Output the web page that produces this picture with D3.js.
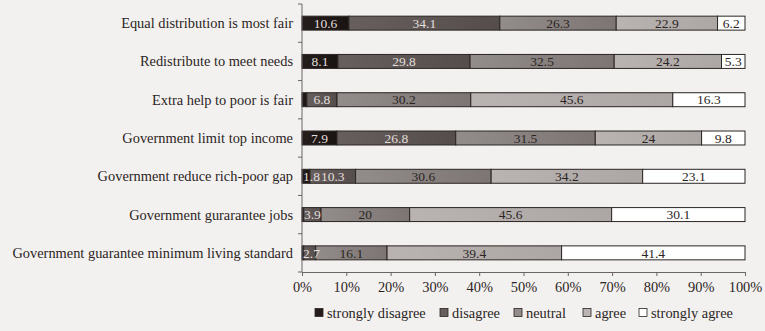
<!DOCTYPE html>
<html>
<head>
<meta charset="utf-8">
<script src="https://cdn.jsdelivr.net/npm/d3@7"></script>
<style>
  body { margin: 0; background: #f3f1f0; }
  svg { display: block; font-family: "Liberation Serif", "DejaVu Serif", serif; }
</style>
</head>
<body>
<div id="chart"></div>
<script>
const categories = [
  "Equal distribution is most fair",
  "Redistribute to meet needs",
  "Extra help to poor is fair",
  "Government limit top income",
  "Government reduce rich-poor gap",
  "Government gurarantee jobs",
  "Government guarantee minimum living standard"
];

const levels = ["strongly disagree", "disagree", "neutral", "agree", "strongly agree"];

const stronglyDisagree = [10.6, 8.1, 1.1, 7.9, 1.8, 0.4, 0.4];
const disagree = [34.1, 29.8, 6.8, 26.8, 10.3, 3.9, 2.7];
const neutral = [26.3, 32.5, 30.2, 31.5, 30.6, 20, 16.1];
const agree = [22.9, 24.2, 45.6, 24, 34.2, 45.6, 39.4];
const stronglyAgree = [6.2, 5.3, 16.3, 9.8, 23.1, 30.1, 41.4];

const xTicks = [0, 0.1, 0.2, 0.3, 0.4, 0.5, 0.6, 0.7, 0.8, 0.9, 1];

const width = 765,
  height = 331;
const margin = { left: 302, right: 20, top: 4, bottom: 59 };

const series = [stronglyDisagree, disagree, neutral, agree, stronglyAgree];
const rows = categories.map((c, i) => {
  const row = { category: c };
  levels.forEach((lv, j) => (row[lv] = series[j][i]));
  return row;
});

const svg = d3
  .select("#chart")
  .append("svg")
  .attr("width", width)
  .attr("height", height);

// slight left-to-right shading on each segment
const fills = {
  "strongly disagree": ["#241d1b", "#1a1412"],
  disagree: ["#675f5d", "#554d4b"],
  neutral: ["#928c8a", "#7c7573"],
  agree: ["#b9b4b2", "#aca6a4"],
  "strongly agree": ["#ffffff", "#ffffff"]
};
const defs = svg.append("defs");
levels.forEach((lv, i) => {
  const g = defs.append("linearGradient").attr("id", "grad" + i);
  g.append("stop").attr("offset", "0%").attr("stop-color", fills[lv][0]);
  g.append("stop").attr("offset", "100%").attr("stop-color", fills[lv][1]);
});

const x = d3
  .scaleLinear()
  .domain([0, 1])
  .range([margin.left, width - margin.right]);

const y = d3
  .scaleBand()
  .domain(categories)
  .range([margin.top, height - margin.bottom])
  .paddingInner(0.635)
  .paddingOuter(0.3175);

const stack = d3.stack().keys(levels).offset(d3.stackOffsetExpand);
const stacked = stack(rows);

const layers = svg
  .selectAll(".layer")
  .data(stacked)
  .enter()
  .append("g")
  .attr("class", "layer")
  .attr("fill", (d, i) => `url(#grad${i})`);

layers
  .selectAll("rect")
  .data((d) => d)
  .enter()
  .append("rect")
  .attr("x", (d) => x(d[0]))
  .attr("y", (d) => y(d.data.category))
  .attr("width", (d) => x(d[1]) - x(d[0]))
  .attr("height", y.bandwidth())
  .attr("stroke", "#2b2523")
  .attr("stroke-width", 1);

// value labels go on top of all segments so narrow ones can spill over
const labels = svg.append("g").attr("class", "labels");
stacked.forEach((layer, i) => {
  labels
    .append("g")
    .selectAll("text")
    .data(layer.filter((d) => d.data[layer.key] >= 1.5))
    .enter()
    .append("text")
    .attr("x", (d) => (x(d[0]) + x(d[1])) / 2)
    .attr("y", (d) => y(d.data.category) + y.bandwidth() / 2)
    .attr("dy", "0.35em")
    .attr("text-anchor", "middle")
    .attr("fill", i < 2 ? "#e2dedc" : "#2b2523")
    .style("font-size", "13.5px")
    .text((d) => d.data[layer.key])
    .each(function () {
      // keep labels inside the plot, right of the axis
      const w = this.getComputedTextLength();
      const cx = +this.getAttribute("x");
      if (cx - w / 2 < margin.left + 1) {
        d3.select(this).attr("x", margin.left + 1 + w / 2);
      }
    });
});

// y axis with ticks between categories
const yAxis = svg.append("g").attr("class", "y-axis");
yAxis
  .append("line")
  .attr("x1", margin.left)
  .attr("x2", margin.left)
  .attr("y1", margin.top)
  .attr("y2", height - margin.bottom)
  .attr("stroke", "#6a6462");
const bounds = categories.map((c) => y(c) - (y.step() * y.paddingInner()) / 2);
bounds.push(height - margin.bottom);
yAxis
  .selectAll(".tick")
  .data(bounds)
  .enter()
  .append("line")
  .attr("x1", margin.left - 4)
  .attr("x2", margin.left)
  .attr("y1", (d) => d)
  .attr("y2", (d) => d)
  .attr("stroke", "#6a6462");
yAxis
  .selectAll("text")
  .data(categories)
  .enter()
  .append("text")
  .attr("x", margin.left - 9)
  .attr("y", (d) => y(d) + y.bandwidth() / 2)
  .attr("dy", "0.35em")
  .attr("text-anchor", "end")
  .attr("fill", "#2b2523")
  .style("font-size", "14.4px")
  .text((d) => d);

// x axis
const xAxis = svg
  .append("g")
  .attr("transform", `translate(0,${height - margin.bottom})`)
  .call(
    d3.axisBottom(x).tickValues(xTicks).tickFormat(d3.format(".0%")).tickSize(4).tickPadding(6)
  );
xAxis.select(".domain").attr("stroke", "#6a6462");
xAxis.selectAll(".tick line").attr("stroke", "#6a6462");
xAxis
  .selectAll(".tick text")
  .attr("fill", "#2b2523")
  .style("font-family", "Liberation Serif, serif")
  .style("font-size", "14.4px");

// legend
const legendX = [315, 440, 514, 583, 639];
const legend = svg
  .append("g")
  .selectAll("g")
  .data(levels)
  .enter()
  .append("g")
  .attr("transform", (d, i) => `translate(${legendX[i]},313)`);
legend
  .append("rect")
  .attr("x", 0)
  .attr("y", -4.5)
  .attr("width", 8)
  .attr("height", 8)
  .attr("fill", (d, i) => fills[d][0])
  .attr("stroke", "#2b2523")
  .attr("stroke-width", 0.8);
legend
  .append("text")
  .attr("x", 12)
  .attr("dy", "0.32em")
  .attr("fill", "#2b2523")
  .style("font-size", "14.4px")
  .text((d) => d);
</script>
</body>
</html>
